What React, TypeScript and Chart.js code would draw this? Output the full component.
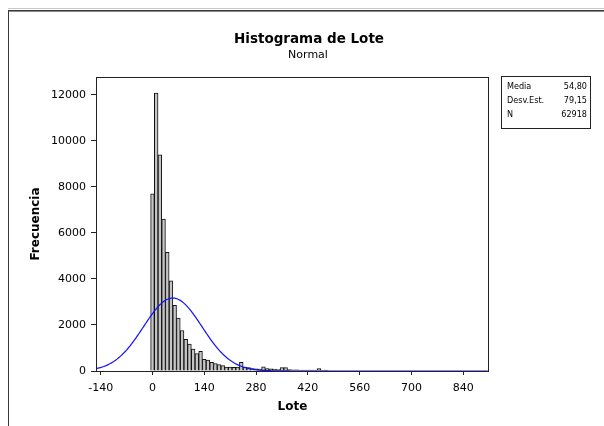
import React, { useEffect, useRef } from 'react';
import Chart from 'chart.js/auto';

// ---- data ----
const binMidpoints = [
  0, 10, 20, 30, 40, 50, 60, 70, 80, 90,
  100, 110, 120, 130, 140, 150, 160, 170, 180, 190,
  200, 210, 220, 230, 240, 250, 260, 270, 280, 290,
  300, 310, 320, 330, 340, 350, 360, 370, 380, 390,
  400, 410, 420, 430, 440, 450, 460, 470,
];
const binCounts = [
  7700, 12080, 9400, 6600, 5160, 3920, 2850, 2300, 1760, 1380,
  1170, 956, 760, 860, 510, 470, 375, 325, 280, 235,
  175, 175, 160, 175, 380, 175, 145, 100, 90, 80,
  180, 100, 90, 80, 60, 145, 145, 60, 50, 50,
  45, 40, 40, 35, 35, 100, 45, 35,
];
const xTickValues = [-140, 0, 140, 280, 420, 560, 700, 840];
const yTickValues = [0, 2000, 4000, 6000, 8000, 10000, 12000];
const statLabels = ['Media', 'Desv.Est.', 'N'];
const statValues = ['54,80', '79,15', '62918'];
const fitMean = 54.8;
const fitStdDev = 79.15;
const fitN = 62918;
const binWidth = 10;
const xMin = -150;
const xMax = 907;
const yMax = 12780;
const chartTitle = 'Histograma de Lote';
const chartSubtitle = 'Normal';
const xTitle = 'Lote';
const yTitle = 'Frecuencia';

const FONT = '"DejaVu Sans", sans-serif';
const FONT_SMALL = '"DejaVu Sans Condensed", "DejaVu Sans", sans-serif';

// fitted normal curve (scaled to counts) from the displayed statistics
const curveX: number[] = [];
for (let v = xMin; v <= xMax; v += 3) curveX.push(v);
const curvePoints = curveX.map((v) => {
  const z = (v - fitMean) / fitStdDev;
  return { x: v, y: (fitN * binWidth) / (fitStdDev * Math.sqrt(2 * Math.PI)) * Math.exp(-0.5 * z * z) };
});

const decorPlugin = {
  id: 'decor',
  beforeDraw(chart: any) {
    const { ctx, width, height } = chart;
    ctx.save();
    ctx.fillStyle = '#ffffff';
    ctx.fillRect(0, 0, width, height);
    ctx.fillStyle = '#c8c8c8';
    ctx.fillRect(8, 8, width - 8, 1);
    ctx.fillStyle = '#3a3a3a';
    ctx.fillRect(8, 10, width - 8, 1);
    ctx.fillStyle = '#8a8a8a';
    ctx.fillRect(8, 11, width - 8, 1);
    ctx.fillStyle = '#3a3a3a';
    ctx.fillRect(8, 10, 1, height - 10);
    ctx.restore();
  },
  afterDatasetsDraw(chart: any) {
    const { ctx, chartArea } = chart;
    ctx.save();
    ctx.strokeStyle = '#222';
    ctx.lineWidth = 1;
    ctx.strokeRect(
      Math.round(chartArea.left) - 0.5,
      Math.round(chartArea.top) + 0.5,
      Math.round(chartArea.right - chartArea.left) + 1,
      Math.round(chartArea.bottom - chartArea.top)
    );
    ctx.restore();
  },
  afterDraw(chart: any) {
    const { ctx } = chart;
    ctx.save();
    ctx.fillStyle = '#000';
    ctx.textAlign = 'center';
    ctx.textBaseline = 'middle';
    ctx.font = `bold 13.5px ${FONT}`;
    ctx.fillText(chartTitle, 309, 39);
    ctx.font = `11px ${FONT}`;
    ctx.fillText(chartSubtitle, 308, 55);

    // statistics box
    ctx.strokeStyle = '#222';
    ctx.lineWidth = 1;
    ctx.strokeRect(501.5, 76.5, 89, 52);
    ctx.font = `9px ${FONT_SMALL}`;
    const rowY = [87, 101, 114.5];
    statLabels.forEach((lab, i) => {
      ctx.textAlign = 'left';
      ctx.fillText(lab, 507, rowY[i]);
      ctx.textAlign = 'right';
      ctx.fillText(statValues[i], 587, rowY[i]);
    });
    ctx.restore();
  },
};

export default function App() {
  const ref = useRef<HTMLCanvasElement | null>(null);
  useEffect(() => {
    if (!ref.current) return;
    const chart = new Chart(ref.current, {
      type: 'bar',
      data: {
        datasets: [
          {
            type: 'line',
            data: curvePoints,
            borderColor: '#1010ff',
            borderWidth: 1.2,
            pointRadius: 0,
            fill: false,
            tension: 0,
            order: 0,
          } as any,
          {
            type: 'bar',
            data: binMidpoints.map((m, i) => ({ x: m, y: binCounts[i] })),
            backgroundColor: '#c4c4c4',
            borderColor: '#111111',
            borderWidth: 1,
            barPercentage: 1,
            categoryPercentage: 1,
            grouped: false,
            order: 1,
          } as any,
        ],
      },
      options: {
        responsive: false,
        animation: false,
        devicePixelRatio: 1,
        layout: { padding: { left: 0, top: 77, right: 116, bottom: 0 } },
        plugins: {
          legend: { display: false },
          tooltip: { enabled: false },
          title: { display: false },
        },
        scales: {
          x: {
            type: 'linear',
            min: xMin,
            max: xMax,
            offset: false,
            afterBuildTicks: (s: any) => {
              s.ticks = xTickValues.map((v) => ({ value: v }));
            },
            afterFit: (s: any) => {
              s.height = 55;
            },
            ticks: {
              autoSkip: false,
              maxRotation: 0,
              color: '#000',
              padding: 7,
              font: { family: FONT, size: 11 },
              callback: (v: any) => String(v),
            },
            grid: { drawOnChartArea: false, tickLength: 4, color: '#222', offset: false },
            border: { display: false },
            title: {
              display: true,
              text: xTitle,
              color: '#000',
              font: { family: FONT, size: 12, weight: 'bold' },
              padding: { top: 0, bottom: 12 },
            },
          },
          y: {
            type: 'linear',
            min: 0,
            max: yMax,
            afterBuildTicks: (s: any) => {
              s.ticks = yTickValues.map((v) => ({ value: v }));
            },
            afterFit: (s: any) => {
              s.width = 97;
            },
            ticks: {
              color: '#000',
              padding: 5,
              font: { family: FONT, size: 11 },
              callback: (v: any) => String(v),
            },
            grid: { drawOnChartArea: false, tickLength: 6, color: '#222' },
            border: { display: false },
            title: {
              display: true,
              text: yTitle,
              color: '#000',
              font: { family: FONT, size: 12, weight: 'bold' },
              padding: { top: 29, bottom: 0 },
            },
          },
        },
      } as any,
      plugins: [decorPlugin],
    });
    return () => chart.destroy();
  }, []);

  return (
    <div style={{ position: 'absolute', left: 0, top: 0, width: 604, height: 426 }}>
      <canvas ref={ref} width={604} height={426} style={{ display: 'block' }} />
    </div>
  );
}
